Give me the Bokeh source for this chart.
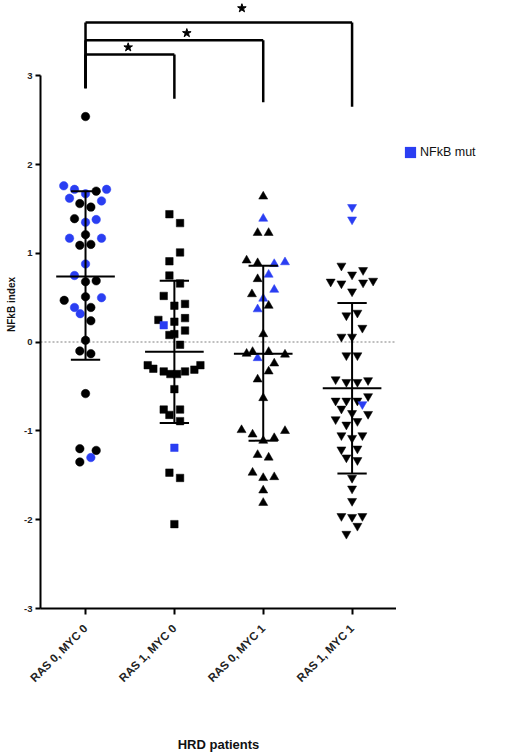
import math
from bokeh.plotting import figure
from bokeh.layouts import row
from bokeh.models import Range1d, FixedTicker, Legend, LegendItem
from bokeh.embed import file_html
from bokeh.resources import INLINE

# ---------------- data ----------------
categories = ["RAS 0, MYC 0", "RAS 1, MYC 0", "RAS 0, MYC 1", "RAS 1, MYC 1"]
markers = ["circle", "square", "triangle", "inverted_triangle"]
marker_sizes = [8.5, 7.5, 9, 9]

g1_dx = [0, -0.245, -0.124, 0, 0.12, 0.237, -0.18, 0.18, -0.064, 0.06, -0.124, 0, 0.12, 0, -0.18, 0.18,
         -0.064, 0.06, 0, -0.124, 0, 0.12, -0.24, 0.18, -0.124, -0.06, 0, 0.06, 0.06, 0, -0.064, 0.06, 0,
         -0.064, 0.12, 0.06, -0.064]
g1_y = [2.54, 1.76, 1.72, 1.67, 1.70, 1.72, 1.62, 1.59, 1.56, 1.52, 1.39, 1.35, 1.38, 1.21, 1.17, 1.17,
        1.09, 1.10, 0.88, 0.75, 0.68, 0.69, 0.47, 0.50, 0.39, 0.32, 0.51, 0.39, 0.24, 0.02, -0.10, -0.13,
        -0.58, -1.20, -1.22, -1.30, -1.35]
g1_mut = [0, 1, 1, 1, 0, 1, 1, 1, 0, 0, 0, 1, 1, 0, 1, 1, 0, 0, 1, 1, 0, 0, 0, 1, 1, 1, 0, 0, 0, 0, 0, 0,
          0, 0, 0, 1, 0]

g2_dx = [-0.056, 0.064, 0.064, -0.056, -0.056, 0.064, -0.12, 0, 0.12, 0.12, -0.18, -0.12, 0, 0.12, -0.056,
         0, 0.064, -0.30, -0.237, -0.12, -0.045, 0.03, 0.12, 0.225, 0.293, 0, -0.12, -0.056, 0.064, 0.064,
         0, -0.056, 0.064, 0]
g2_y = [1.44, 1.34, 1.01, 0.91, 0.75, 0.66, 0.52, 0.41, 0.43, 0.27, 0.25, 0.19, 0.23, 0.13, 0.08, 0.09,
        -0.03, -0.26, -0.30, -0.33, -0.36, -0.36, -0.33, -0.31, -0.26, -0.53, -0.76, -0.82, -0.76, -0.89,
        -1.19, -1.47, -1.53, -2.05]
g2_mut = [0, 0, 0, 0, 0, 0, 0, 0, 0, 0, 0, 1, 0, 0, 0, 0, 0, 0, 0, 0, 0, 0, 0, 0, 0, 0, 0, 0, 0, 0,
          1, 0, 0, 0]

g3_dx = [0, 0, -0.063, 0.061, -0.187, -0.063, 0.124, 0.245, 0.061, -0.063, 0.124, -0.127, 0, -0.063, 0.061,
         0, -0.187, -0.12, 0.061, 0.245, -0.063, 0.124, 0.061, -0.063, 0, -0.244, -0.12, 0.124, 0.245, 0,
         -0.063, 0.061, -0.12, 0, 0.124, 0, 0]
g3_y = [1.64, 1.39, 1.23, 1.23, 0.92, 0.89, 0.88, 0.90, 0.76, 0.71, 0.59, 0.54, 0.49, 0.37, 0.41, 0.09,
        -0.13, -0.11, -0.11, -0.14, -0.18, -0.24, -0.33, -0.42, -0.63, -0.99, -1.04, -1.08, -1.00, -1.11,
        -1.27, -1.30, -1.47, -1.53, -1.52, -1.67, -1.81]
g3_mut = [0, 1, 0, 0, 0, 0, 1, 1, 1, 0, 1, 0, 1, 1, 0, 0, 0, 0, 0, 0, 1, 0, 0, 0, 0, 0, 0, 0, 0, 0,
          0, 0, 0, 0, 0, 0, 0]

g4_dx = [0, 0, -0.12, 0, 0.124, -0.241, -0.12, 0.124, 0.237, 0, -0.064, 0.06, 0.116, -0.12, 0, -0.064,
         0.06, -0.185, -0.064, 0.06, 0.18, -0.185, -0.064, 0.06, 0.18, 0.116, -0.12, 0, -0.185, 0.18,
         -0.064, 0.06, -0.12, 0, 0.116, -0.12, 0.06, -0.064, 0.06, 0, 0, 0, -0.12, 0, 0.116, 0.06, -0.064]
g4_y = [1.52, 1.38, 0.86, 0.76, 0.81, 0.68, 0.66, 0.67, 0.69, 0.57, 0.30, 0.33, 0.16, 0.06, 0.06, -0.15,
        -0.15, -0.42, -0.45, -0.45, -0.43, -0.66, -0.66, -0.66, -0.61, -0.70, -0.75, -0.80, -0.87, -0.81,
        -0.93, -0.89, -1.05, -1.08, -1.05, -1.21, -1.20, -1.30, -1.33, -1.53, -1.65, -1.79, -1.96, -1.97,
        -1.96, -2.07, -2.16]
g4_mut = [1, 1] + [0] * 23 + [1] + [0] * 21

means = [0.74, -0.11, -0.13, -0.52]
sd_hi = [1.70, 0.69, 0.86, 0.44]
sd_lo = [-0.20, -0.91, -1.11, -1.48]

bracket_to = [2, 3, 4]
bracket_top = [3.24, 3.40, 3.60]
bracket_end = [2.74, 2.70, 2.65]
bracket_start = 2.86
star_x = [1.48, 2.14, 2.76]
star_y = [3.32, 3.48, 3.76]

y_ticks = [-3, -2, -1, 0, 1, 2, 3]
y_tick_labels = ["-3", "-2", "-1", "0", "1", "2", "3"]
legend_label = "NFkB mut"
x_title = "HRD patients"
y_title = "NFkB index"

BLUE = "#2a3ef2"
BLACK = "#000000"
FONT = "Liberation Sans"

# ---------------- layout constants ----------------
unit = 88.8                 # px per unit on both axes
x_start = 1 - 45 / unit     # y axis sits 45 px left of first group
x_end = 4.5
H = 756
left_b = 40
frame_w = (x_end - x_start) * unit
W1 = int(round(left_b + frame_w))
frame_bottom = 608
bottom_b = H - frame_bottom
y_end = -3 + frame_bottom / unit

p = figure(width=W1, height=H, output_backend="svg", toolbar_location=None,
           x_range=Range1d(x_start, x_end), y_range=Range1d(-3, y_end),
           min_border_left=left_b, min_border_right=0, min_border_top=0, min_border_bottom=bottom_b)
p.outline_line_color = None
p.xgrid.visible = False
p.ygrid.visible = False

# x axis
xa = p.xaxis[0]
xa.ticker = FixedTicker(ticks=[1, 2, 3, 4])
xa.major_label_overrides = {i + 1: c for i, c in enumerate(categories)}
xa.major_label_orientation = math.pi / 4
xa.axis_line_width = 2
xa.major_tick_line_width = 2
xa.major_tick_out = 6
xa.major_tick_in = 0
xa.minor_tick_line_color = None
xa.major_label_text_font = FONT
xa.major_label_text_font_size = "11.5px"
xa.major_label_text_font_style = "bold"
xa.major_label_text_color = "#222222"
xa.major_label_standoff = 12
xa.axis_label = x_title
xa.axis_label_text_font = FONT
xa.axis_label_text_font_size = "13px"
xa.axis_label_text_font_style = "bold"
xa.axis_label_text_color = "#111111"
xa.axis_label_standoff = 46

# y axis
ya = p.yaxis[0]
ya.ticker = FixedTicker(ticks=y_ticks)
ya.major_label_overrides = dict(zip(y_ticks, y_tick_labels))
ya.bounds = (-3, 3)
ya.axis_line_width = 2
ya.major_tick_line_width = 2
ya.major_tick_out = 5
ya.major_tick_in = 0
ya.minor_tick_line_color = None
ya.major_label_text_font = FONT
ya.major_label_text_font_size = "9.5px"
ya.major_label_text_font_style = "bold"
ya.major_label_text_color = "#222222"
ya.major_label_standoff = 3
ya.axis_label = y_title
ya.axis_label_text_font = FONT
ya.axis_label_text_font_size = "10px"
ya.axis_label_text_font_style = "bold"
ya.axis_label_text_color = "#111111"
ya.axis_label_standoff = 4

# zero line
p.line(x=[x_start, x_end], y=[0, 0], line_color="#aaaaaa", line_width=1.5, line_dash="2 2")

# points
groups = [(g1_dx, g1_y, g1_mut), (g2_dx, g2_y, g2_mut), (g3_dx, g3_y, g3_mut), (g4_dx, g4_y, g4_mut)]
for gi, (dx, ys, mut) in enumerate(groups):
    xs = [gi + 1 + d for d in dx]
    cols = [BLUE if m else BLACK for m in mut]
    p.scatter(x=xs, y=ys, marker=markers[gi], size=marker_sizes[gi],
              fill_color=cols, line_color=cols, line_width=0.5)

# mean and SD bars
cx = [i + 1 for i in range(len(categories))]
p.segment(x0=cx, y0=sd_lo, x1=cx, y1=sd_hi, line_color=BLACK, line_width=2)
p.segment(x0=[c - 0.33 for c in cx], y0=means, x1=[c + 0.33 for c in cx], y1=means,
          line_color=BLACK, line_width=2)
p.segment(x0=[c - 0.165 for c in cx], y0=sd_hi, x1=[c + 0.165 for c in cx], y1=sd_hi,
          line_color=BLACK, line_width=2)
p.segment(x0=[c - 0.165 for c in cx], y0=sd_lo, x1=[c + 0.165 for c in cx], y1=sd_lo,
          line_color=BLACK, line_width=2)

# significance brackets
bx0, by0, bx1, by1 = [], [], [], []
for k, top, end in zip(bracket_to, bracket_top, bracket_end):
    bx0 += [1, 1, k]
    by0 += [bracket_start, top, top]
    bx1 += [1, k, k]
    by1 += [top, top, end]
p.segment(x0=bx0, y0=by0, x1=bx1, y1=by1, line_color=BLACK, line_width=2.5)
p.scatter(x=star_x, y=star_y, marker="star", size=9, fill_color=BLACK, line_color=BLACK)

# ---------------- legend panel (second figure, no axes, same frame height) ----------------
W2 = 504 - W1
q = figure(width=W2, height=H, output_backend="svg", toolbar_location=None,
           x_range=Range1d(0, 1), y_range=Range1d(0, 1),
           x_axis_location=None, y_axis_location=None,
           min_border_left=0, min_border_right=0, min_border_top=0, min_border_bottom=bottom_b)
q.outline_line_color = None
q.xgrid.visible = False
q.ygrid.visible = False
dummy = q.quad(left=[-10], right=[-9], top=[-10], bottom=[-11], fill_color=BLUE, line_color=None)
legend = Legend(items=[LegendItem(label=legend_label, renderers=[dummy])],
                location=(7, frame_bottom - 159), glyph_width=14, glyph_height=14, label_height=14,
                padding=0, margin=0, spacing=0, label_standoff=3,
                border_line_color=None, background_fill_alpha=0,
                label_text_font=FONT, label_text_font_size="12.5px", label_text_color="#111111")
q.add_layout(legend)

layout = row(p, q)
open("out.html", "w").write(file_html(layout, INLINE))
